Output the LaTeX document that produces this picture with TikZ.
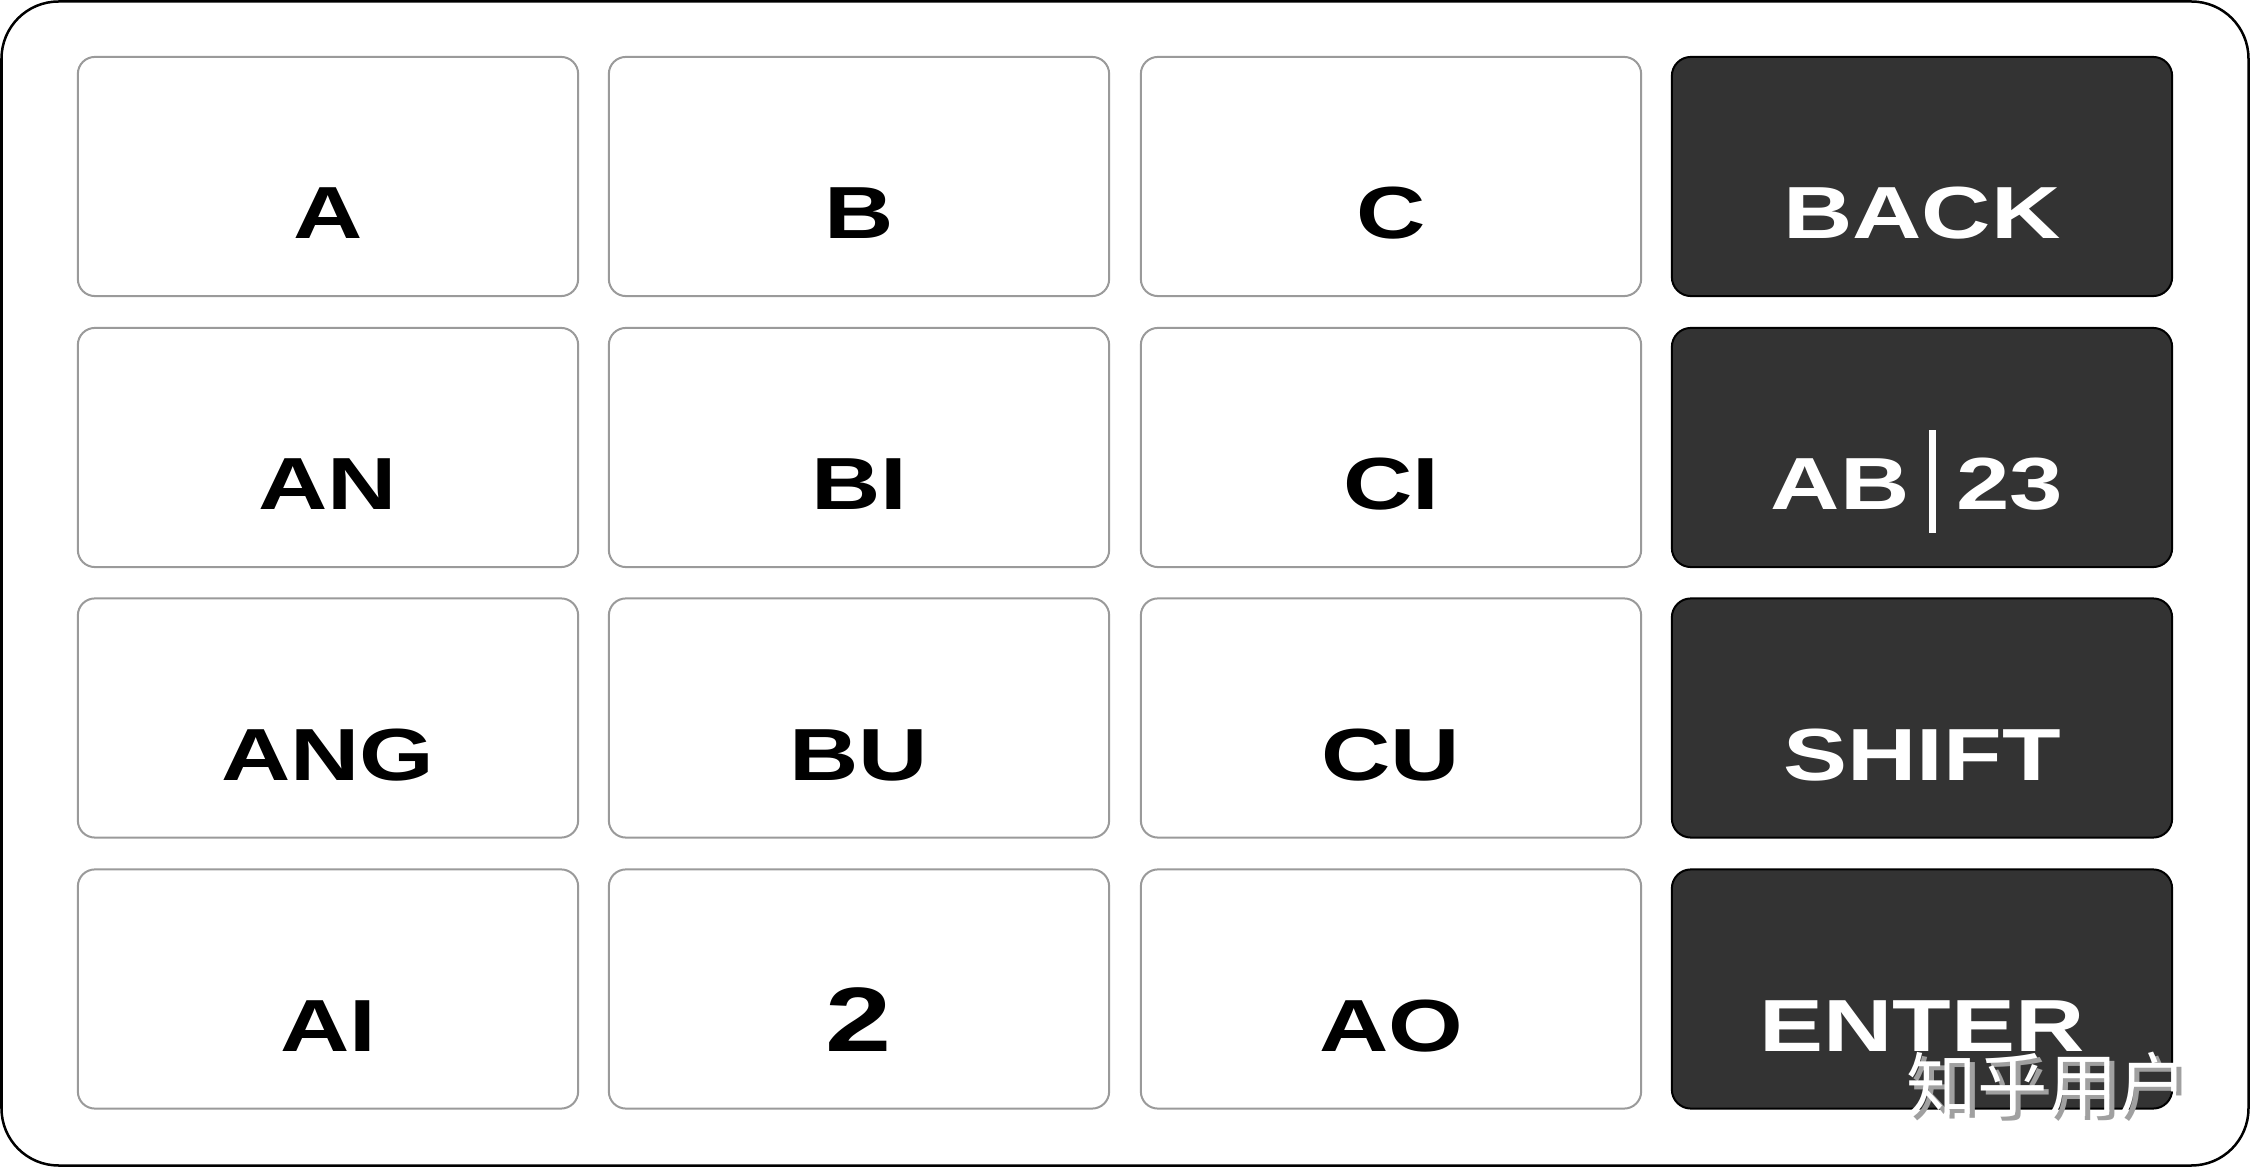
\documentclass[tikz,border=0pt]{standalone}
\usepackage{fontspec}
\newfontfamily\keyfont[FakeStretch=1.3]{Liberation Sans}
\newfontfamily\cjk{Noto Sans CJK SC}
\definecolor{darkkey}{HTML}{333333}
\definecolor{keyline}{HTML}{9A9A9A}
\definecolor{wmshadow}{HTML}{A0A0A0}
\begin{document}
\begin{tikzpicture}[x=0.01cm,y=-0.01cm,
  lkey/.style={draw=keyline, fill=white, line width=0.02cm, rounded corners=0.17cm,
    minimum width=5cm, minimum height=2.39cm, inner sep=0pt},
  dkey/.style={draw=black, fill=darkkey, line width=0.02cm, rounded corners=0.19cm,
    minimum width=5cm, minimum height=2.39cm, inner sep=0pt},
  lab/.style={anchor=base, inner sep=0pt, font=\keyfont\bfseries\fontsize{21}{25}\selectfont},
  dlab/.style={lab, text=white},
  big/.style={lab, font=\keyfont\bfseries\fontsize{26}{30}\selectfont},
  wm/.style={anchor=base west, inner sep=0pt, font=\cjk\fontsize{20}{24}\selectfont}
]
\useasboundingbox (0,0) rectangle (2250,1167);
\draw[line width=0.025cm, rounded corners=0.57cm] (1.5,1.5) rectangle (2248.5,1165.5);

% keys
\node[lkey] (kA)   at (328,176.5) {};
\node[lkey] (kB)   at (859,176.5) {};
\node[lkey] (kC)   at (1391,176.5) {};
\node[dkey] (kBK)  at (1922,176.5) {};
\node[lkey] (kAN)  at (328,447.5) {};
\node[lkey] (kBI)  at (859,447.5) {};
\node[lkey] (kCI)  at (1391,447.5) {};
\node[dkey] (kAB)  at (1922,447.5) {};
\node[lkey] (kANG) at (328,718) {};
\node[lkey] (kBU)  at (859,718) {};
\node[lkey] (kCU)  at (1391,718) {};
\node[dkey] (kSH)  at (1922,718) {};
\node[lkey] (kAI)  at (328,989) {};
\node[lkey] (k2)   at (859,989) {};
\node[lkey] (kAO)  at (1391,989) {};
\node[dkey] (kEN)  at (1922,989) {};

% labels
\node[lab]  (tA)   at ([yshift=-0.62cm]kA.center)   {A};
\node[lab]  (tB)   at ([yshift=-0.62cm]kB.center)   {B};
\node[lab]  (tC)   at ([yshift=-0.62cm]kC.center)   {C};
\node[dlab] (tBK)  at ([yshift=-0.62cm]kBK.center)  {BACK};
\node[lab]  (tAN)  at ([yshift=-0.62cm]kAN.center)  {AN};
\node[lab]  (tBI)  at ([yshift=-0.62cm]kBI.center)  {BI};
\node[lab]  (tCI)  at ([yshift=-0.62cm]kCI.center)  {CI};
\node[dlab] (tAB)  at ([xshift=-0.05cm,yshift=-0.62cm]kAB.center)
  {AB\hspace{0.2cm}\rule[-0.23cm]{0.07cm}{1.02cm}\hspace{0.2cm}23};
\node[lab]  (tANG) at ([yshift=-0.62cm]kANG.center) {ANG};
\node[lab]  (tBU)  at ([yshift=-0.62cm]kBU.center)  {BU};
\node[lab]  (tCU)  at ([yshift=-0.62cm]kCU.center)  {CU};
\node[dlab] (tSH)  at ([yshift=-0.62cm]kSH.center)  {SHIFT};
\node[lab]  (tAI)  at ([yshift=-0.62cm]kAI.center)  {AI};
\node[big]  (t2)   at ([yshift=-0.62cm]k2.center)   {2};
\node[lab]  (tAO)  at ([yshift=-0.62cm]kAO.center)  {AO};
\node[dlab] (tEN)  at ([yshift=-0.62cm]kEN.center)  {ENTER};

% watermark
\node[wm, text=wmshadow] (wms) at (1911,1116) {知乎用户};
\node[wm, text=white]    (wmt) at (1906,1111) {知乎用户};
\end{tikzpicture}
\end{document}
